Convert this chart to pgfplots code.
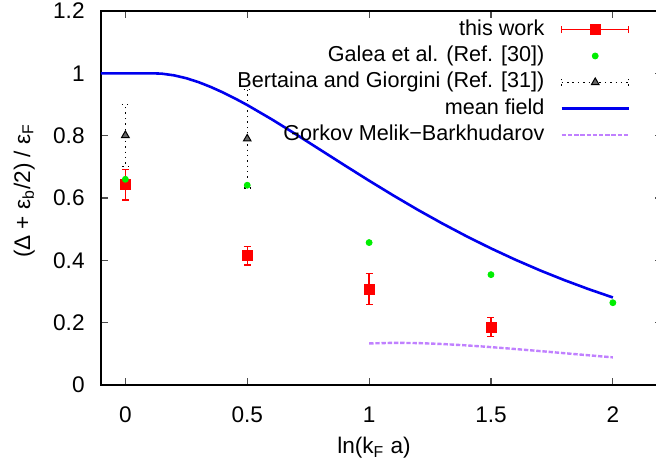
\documentclass[border=0pt]{standalone}
\usepackage{fontspec}
\setmainfont{Liberation Sans}
\usepackage{pgfplots}
\pgfplotsset{compat=1.18}
\definecolor{gpred}{HTML}{FF0000}
\definecolor{gpgreen}{HTML}{00EE00}
\definecolor{gpblue}{HTML}{0000EE}
\definecolor{gppurple}{HTML}{C080FF}
\newcommand\gpfont{\fontsize{10bp}{12bp}\selectfont}
\newcommand\lblfont{\fontsize{11.3bp}{13bp}\selectfont}
\newcommand\legfont{\fontsize{10.8bp}{13bp}\selectfont}

\begin{document}
\begin{tikzpicture}[font=\gpfont]
\useasboundingbox (-50.5bp,-40.5bp) rectangle (277.5bp,192.5bp);
\clip (-50.5bp,-40.5bp) rectangle (277.5bp,192.5bp);
\begin{axis}[
    scale only axis, width=280.3bp, height=187bp,
    xmin=-0.1, xmax=2.2, ymin=0, ymax=1.2,
    xtick={0,0.5,1,1.5,2}, ytick={0,0.2,0.4,0.6,0.8,1,1.2},
    /pgf/number format/assume math mode=true,
    tick align=inside, major tick length=3.5bp,
    axis line style={black, line width=0.7bp},
    tick style={black!70, line width=0.6bp},
    tick label style={font=\lblfont},
    xticklabel style={inner sep=0pt, text height=7.8bp, text depth=0pt, anchor=north, yshift=-10.6bp},
    yticklabel style={inner sep=0pt, text height=7.8bp, text depth=0pt, anchor=east, xshift=-8bp},
    xlabel={ln(k\textsubscript{F} a)},
    ylabel={(Δ + ε\textsubscript{b}/2) / ε\textsubscript{F}},
    label style={font=\lblfont},
    xlabel style={at={(axis description cs:0.487,-0.168)}, anchor=center},
    ylabel style={at={(axis description cs:-0.137,0.519)}, anchor=center},
    legend plot pos=right,
    legend cell align=right,
    legend style={at={(axis description cs:0.9437,0.976)}, anchor=north east,
      draw=none, fill=none, inner sep=0pt, outer sep=0pt,
      row sep=3.6bp, column sep=8bp,
      font=\legfont,
      nodes={inner sep=0pt, text height=7.6bp, text depth=2bp}},
]

% this work
\addplot[only marks, mark=square*, mark size=2.5bp, color=gpred,
    error bars/.cd, y dir=both, y explicit,
    error bar style={gpred, line width=0.7bp},
    error mark options={gpred, mark size=1.75bp, line width=0.7bp, rotate=90},
    /pgfplots/legend image code/.code={
      \draw[gpred, line width=0.7bp] (0bp,0bp) -- (33.5bp,0bp)
        (0bp,-1.75bp) -- (0bp,1.75bp) (33.5bp,-1.75bp) -- (33.5bp,1.75bp);
      \fill[gpred] (14.25bp,-2.5bp) rectangle (19.25bp,2.5bp);},
    ]
  coordinates {(0,0.643) +- (0,0.049) (0.5,0.415) +- (0,0.030)
               (1,0.308) +- (0,0.050) (1.5,0.186) +- (0,0.030)};

% Galea et al.
\addplot[only marks, mark=*, mark size=1.5bp, color=gpgreen,
    legend image code/.code={
      \path[draw=none] (0bp,-1bp) rectangle (33.5bp,1bp);
      \fill[gpgreen] (16.75bp,0bp) circle (1.5bp);}]
  coordinates {(0,0.660) (0.5,0.641) (1,0.457) (1.5,0.354) (2,0.264)};

% Bertaina and Giorgini
\addplot[only marks, mark=triangle*, mark size=2.2bp, color=black,
    mark options={fill=black!60, draw=black, line width=0.5bp},
    error bars/.cd, y dir=both, y explicit,
    error bar style={black, line width=0.7bp, dotted},
    error mark options={black, mark size=1.75bp, line width=0.6bp, rotate=90, dotted},
    /pgfplots/legend image code/.code={
      \draw[black, line width=0.7bp, dotted] (0bp,0bp) -- (33.5bp,0bp)
        (0bp,-1.75bp) -- (0bp,1.75bp) (33.5bp,-1.75bp) -- (33.5bp,1.75bp);
      \filldraw[fill=black!60, draw=black, line width=0.5bp]
        (16.75bp,2.2bp) -- (14.85bp,-1.1bp) -- (18.65bp,-1.1bp) -- cycle;},
    ]
  coordinates {(0,0.801) +- (0,0.100) (0.5,0.790) +- (0,0.158)};

% mean field
\addplot[gpblue, line width=1.3bp,
    legend image code/.code={\draw[gpblue, line width=1.3bp] (0bp,0bp) -- (33.5bp,0bp);}]
  coordinates {(-0.1,1.0) (0.116,1.0) (0.15,0.9989) (0.2,0.9935) (0.25,0.9843)
               (0.3,0.9718) (0.35,0.9564) (0.4,0.9388) (0.45,0.9193) (0.5,0.8983)
               (0.6,0.8527) (0.7,0.8043) (0.8,0.7545) (0.9,0.7047) (1.0,0.6556)
               (1.1,0.6079) (1.2,0.5620) (1.3,0.5184) (1.4,0.4771) (1.5,0.4383)
               (1.6,0.4020) (1.7,0.3682) (1.8,0.3368) (1.9,0.3077) (2.0,0.2808)};

% Gorkov Melik-Barkhudarov
\addplot[gppurple, line width=1.2bp, dash pattern=on 2.2bp off 0.9bp,
    legend image code/.code={\draw[gppurple, line width=1.2bp, dash pattern=on 2.2bp off 0.9bp] (0bp,0bp) -- (33.5bp,0bp);}]
  coordinates {(1.0,0.1333) (1.1,0.1353) (1.2,0.1345) (1.3,0.1315) (1.4,0.1271)
               (1.5,0.1216) (1.6,0.1154) (1.7,0.1089) (1.8,0.1021) (1.9,0.0954)
               (2.0,0.0887)};

\legend{this work, Galea et al. (Ref. [30]), Bertaina and Giorgini (Ref. [31]), mean field, Gorkov Melik−Barkhudarov}
\end{axis}
\end{tikzpicture}
\end{document}
